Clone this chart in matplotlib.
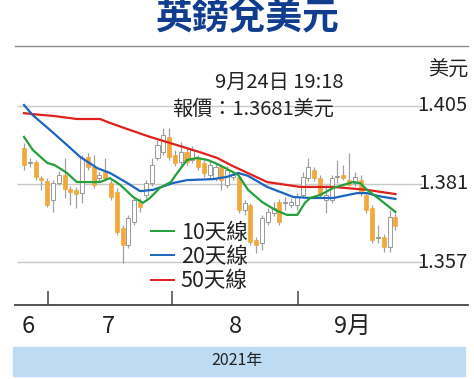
import numpy as np
import matplotlib.pyplot as plt
from matplotlib.lines import Line2D
from matplotlib.patches import Rectangle

# daily candles, 24 Jun - 24 Sep 2021 (GBP/USD)
opens = [1.3921, 1.3875, 1.3878, 1.3828, 1.3819, 1.3761, 1.3813, 1.3838, 1.3795, 1.3792,
         1.3782, 1.3893, 1.3862, 1.3828, 1.3847, 1.3813, 1.3785, 1.3675, 1.3622, 1.3693,
         1.3755, 1.3776, 1.3813, 1.3890, 1.3908, 1.3955, 1.3899, 1.3878, 1.3908, 1.3884,
         1.3890, 1.3875, 1.3838, 1.3828, 1.3862, 1.3807, 1.3832, 1.3832, 1.3730, 1.3745,
         1.3638, 1.3628, 1.3693, 1.3721, 1.3755, 1.3752, 1.3745, 1.3745, 1.3776, 1.3828,
         1.3853, 1.3828, 1.3761, 1.3761, 1.3832, 1.3838, 1.3822, 1.3813, 1.3822, 1.3776,
         1.3736, 1.3644, 1.3647, 1.3616, 1.3708]
closes = [1.3868, 1.3878, 1.3832, 1.3822, 1.3745, 1.3813, 1.3838, 1.3795, 1.3785, 1.3779,
          1.3890, 1.3862, 1.3807, 1.3838, 1.3828, 1.3770, 1.3662, 1.3622, 1.3705, 1.3761,
          1.3739, 1.3813, 1.3868, 1.3930, 1.3961, 1.3893, 1.3875, 1.3908, 1.3878, 1.3915,
          1.3862, 1.3844, 1.3868, 1.3862, 1.3822, 1.3853, 1.3838, 1.3730, 1.3752, 1.3632,
          1.3622, 1.3705, 1.3724, 1.3736, 1.3693, 1.3755, 1.3755, 1.3770, 1.3832, 1.3862,
          1.3828, 1.3776, 1.3776, 1.3828, 1.3835, 1.3828, 1.3807, 1.3832, 1.3782, 1.3730,
          1.3638, 1.3647, 1.3616, 1.3708, 1.3681]
highs = [1.3936, 1.3890, 1.3884, 1.3835, 1.3828, 1.3822, 1.3850, 1.3890, 1.3804, 1.3801,
         1.3899, 1.3905, 1.3899, 1.3847, 1.3890, 1.3822, 1.3798, 1.3684, 1.3715, 1.3770,
         1.3767, 1.3822, 1.3890, 1.3945, 1.3982, 1.3982, 1.3915, 1.3939, 1.3921, 1.3927,
         1.3899, 1.3884, 1.3884, 1.3875, 1.3872, 1.3865, 1.3847, 1.3838, 1.3761, 1.3752,
         1.3647, 1.3715, 1.3736, 1.3755, 1.3764, 1.3770, 1.3767, 1.3782, 1.3847, 1.3890,
         1.3862, 1.3838, 1.3807, 1.3838, 1.3884, 1.3868, 1.3905, 1.3847, 1.3838, 1.3785,
         1.3745, 1.3684, 1.3656, 1.3730, 1.3721]
lows = [1.3853, 1.3862, 1.3822, 1.3792, 1.3739, 1.3724, 1.3807, 1.3767, 1.3745, 1.3736,
        1.3752, 1.3853, 1.3798, 1.3816, 1.3819, 1.3761, 1.3653, 1.3567, 1.3613, 1.3684,
        1.3724, 1.3767, 1.3804, 1.3884, 1.3899, 1.3884, 1.3865, 1.3868, 1.3868, 1.3875,
        1.3853, 1.3832, 1.3828, 1.3819, 1.3792, 1.3798, 1.3822, 1.3721, 1.3715, 1.3622,
        1.3598, 1.3607, 1.3684, 1.3712, 1.3684, 1.3730, 1.3736, 1.3730, 1.3767, 1.3819,
        1.3819, 1.3767, 1.3721, 1.3752, 1.3813, 1.3822, 1.3804, 1.3804, 1.3773, 1.3721,
        1.3628, 1.3628, 1.3601, 1.3601, 1.3668]

# moving averages (day index, value)
ma10_x = [0, 1.5, 4, 5.3, 7.4, 9.1, 10.9, 13.1, 14.8, 16.6, 18.8, 20.5, 21.7, 23.4, 25.3,
          26.4, 28.1, 29.8, 31.6, 32.9, 34.7, 36.9, 38.6, 41, 43.3, 45.3, 47.1, 48.4, 49.3,
          51, 53.3, 55, 56.7, 57.9, 59.1, 61.4, 64]
ma10_y = [1.3955, 1.3915, 1.3875, 1.3868, 1.3844, 1.3816, 1.3816, 1.3816, 1.3828, 1.3807,
          1.3770, 1.3752, 1.3767, 1.3798, 1.3816, 1.3844, 1.3884, 1.3890, 1.3884, 1.3875,
          1.3859, 1.3838, 1.3792, 1.3755, 1.3730, 1.3715, 1.3715, 1.3752, 1.3767, 1.3776,
          1.3798, 1.3807, 1.3816, 1.3813, 1.3792, 1.3761, 1.3724]
ma20_x = [0, 1.5, 4.5, 7.4, 9.7, 12.6, 14.8, 17.8, 20, 22.2, 25.7, 28.1, 32.6, 35, 36.9,
          38.6, 41.9, 46.4, 49.3, 53.3, 57.4, 59.1, 61, 64]
ma20_y = [1.4053, 1.4022, 1.3976, 1.3930, 1.3893, 1.3859, 1.3844, 1.3813, 1.3788, 1.3792,
          1.3813, 1.3822, 1.3825, 1.3832, 1.3844, 1.3835, 1.3801, 1.3770, 1.3767, 1.3767,
          1.3782, 1.3782, 1.3773, 1.3764]
ma50_x = [0, 1.5, 5.3, 9.1, 13.1, 14.8, 17.8, 21.7, 27.4, 30.3, 33.3, 36, 41.9, 47.6,
          53.3, 59.1, 64]
ma50_y = [1.4028, 1.4025, 1.4019, 1.4010, 1.4010, 1.3998, 1.3979, 1.3955, 1.3924, 1.3908,
          1.3890, 1.3865, 1.3816, 1.3801, 1.3801, 1.3792, 1.3779]

yticks = [1.357, 1.381, 1.405]
month_bounds = [4.15, 25.5, 47.2]
month_pos = [0.7, 14.5, 36.4, 56.6]
month_labels = ['6', '7', '8', '9月']
legend_labels = ['10天線', '20天線', '50天線']

C_UP_EDGE = '#9a9a9a'
C_DOWN = '#f2a93b'
C_GREEN = '#23a03c'
C_BLUE = '#1c64c0'
C_RED = '#e0201c'
NUM = ['Liberation Sans Narrow', 'Noto Sans CJK TC', 'DejaVu Sans']
CJK = ['Noto Sans CJK TC', 'DejaVu Sans']

W, H = 474, 379
fig = plt.figure(figsize=(W / 100, H / 100), dpi=100)
ax = fig.add_axes([15 / W, 1 - 305 / H, 453 / W, 259 / H])
ax.set_xlim(-1.55, 76.5)
ax.set_ylim(1.34377, 1.42346)

for s in ['left', 'right']:
    ax.spines[s].set_visible(False)
ax.spines['top'].set_color('#8a8a8a')
ax.spines['top'].set_linewidth(1.0)
ax.spines['bottom'].set_color('#444444')
ax.spines['bottom'].set_linewidth(1.3)

# grid lines + price labels
ax.hlines(yticks, -1.2, 68.6, color='#c9c9c9', lw=1.0, zorder=0)
for v in yticks:
    ax.text(1.0, v, f'{v:.3f}', transform=ax.get_yaxis_transform(), ha='right',
            va='center', fontsize=14.5, family=NUM, color='#222222')
ax.text(1.0, 1.4163, '美元', transform=ax.get_yaxis_transform(), ha='right',
        va='center', fontsize=14.5, family=CJK, color='#222222')
ax.set_yticks([])

# candles
idx = np.arange(len(opens))
o = np.array(opens)
c = np.array(closes)
up = c >= o
ax.vlines(idx, lows, highs, color='#a0a0a0', lw=0.9, zorder=2)
body_lo = np.minimum(o, c)
body_h = np.maximum(np.abs(c - o), 0.0002)
ax.bar(idx[up], body_h[up], bottom=body_lo[up], width=0.7, color='white',
       edgecolor=C_UP_EDGE, linewidth=0.7, zorder=3)
ax.bar(idx[~up], body_h[~up], bottom=body_lo[~up], width=0.7, color=C_DOWN,
       edgecolor=C_DOWN, linewidth=0.5, zorder=3)

# moving averages
ax.plot(ma50_x, ma50_y, color=C_RED, lw=1.6, zorder=4)
ax.plot(ma20_x, ma20_y, color=C_BLUE, lw=1.6, zorder=5)
ax.plot(ma10_x, ma10_y, color=C_GREEN, lw=1.6, zorder=6)

# month axis
ax.set_xticks(month_bounds)
ax.set_xticklabels([])
ax.tick_params(axis='x', which='major', direction='in', length=10, width=1.1,
               color='#444444')
ax.set_xticks(month_pos, minor=True)
ax.set_xticklabels(month_labels, minor=True, fontsize=17, family=NUM, color='#222222')
ax.tick_params(axis='x', which='minor', length=0, pad=7)

# legend
handles = [Line2D([], [], color=C_GREEN, lw=1.4),
           Line2D([], [], color=C_BLUE, lw=1.4),
           Line2D([], [], color=C_RED, lw=1.4)]
leg = fig.legend(handles, legend_labels, loc='upper left',
                 bbox_to_anchor=(140 / W, 1 - 211 / H), frameon=False,
                 handlelength=1.1, handletextpad=0.3, labelspacing=0.1,
                 borderpad=0, prop={'family': NUM, 'size': 15.5})
for t in leg.get_texts():
    t.set_color('#222222')

# quote annotation
fig.text(279 / W, 1 - 82 / H, '9月24日 19:18', ha='center', va='center',
         fontsize=14.5, family=CJK, color='#222222')
fig.text(253 / W, 1 - 109 / H, '報價：1.3681美元', ha='center', va='center',
         fontsize=14.5, family=CJK, color='#222222')

# title
fig.text(247 / W, 1 - 19 / H, '英鎊兌美元', ha='center', va='center',
         fontsize=26.5, fontweight='bold', family=CJK, color='#123d8e')

# year band
fig.patches.append(Rectangle((13 / W, 1 - 376 / H), 452 / W, 29 / H,
                             transform=fig.transFigure, color='#bddcf3', zorder=0))
fig.text(237 / W, 1 - 361 / H, '2021年', ha='center', va='center',
         fontsize=11.5, family=NUM, color='#222222')

fig.savefig('out.png', dpi=100)
